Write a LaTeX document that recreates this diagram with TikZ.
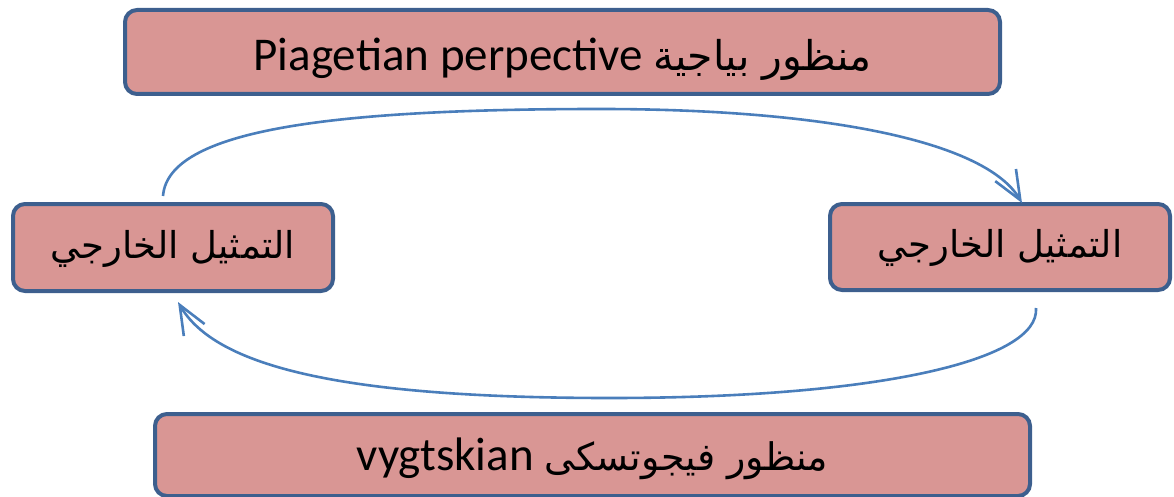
\documentclass[tikz,border=0pt]{standalone}
\usepackage{fontspec}
\setmainfont{Carlito}
\newfontfamily\arabicfont[Script=Arabic]{DejaVu Sans}
\TeXXeTstate=1
\usetikzlibrary{arrows.meta}
\definecolor{boxfill}{HTML}{D99694}
\definecolor{boxline}{HTML}{3D5F8E}
\definecolor{arcline}{HTML}{4A7EBB}
\begin{document}
\begin{tikzpicture}[x=1pt,y=-1pt,
  box/.style={draw=boxline,fill=boxfill,line width=4pt,rounded corners=12pt,inner sep=0pt,text=black,text depth=0pt},
  arc/.style={draw=arcline,line width=2.6pt,-{Straight Barb[length=29pt,width=24pt,line width=2.6pt]}}]
\useasboundingbox (0,0) rectangle (1174,497);
\begin{scope}
\clip (0,0) rectangle (1174,497);
\node[box,minimum width=875pt,minimum height=84pt,text height=38pt] (T) at (562.5,52)
  {\fontsize{47pt}{52pt}\selectfont\beginR{\arabicfont\fontsize{41pt}{46pt}\selectfont منظور بياجية} \beginL Piagetian perpective\endL\endR};
\node[box,minimum width=320pt,minimum height=87pt,text height=21pt] (L) at (173,247.5)
  {\arabicfont\fontsize{37pt}{42pt}\selectfont\beginR التمثيل الخارجي\endR};
\node[box,minimum width=340pt,minimum height=86pt,text height=20pt] (R) at (1000,247)
  {\arabicfont\fontsize{37pt}{42pt}\selectfont\beginR التمثيل الخارجي\endR};
\node[box,minimum width=875pt,minimum height=82pt,text height=30pt] (B) at (592.5,455)
  {\fontsize{47pt}{52pt}\selectfont\beginR{\arabicfont\fontsize{38pt}{43pt}\selectfont منظور فيجوتسكى} \beginL vygtskian\endL\endR};
\end{scope}
\coordinate (ptop) at (600,109);
\coordinate (pbot) at (610,398);
\draw[arc] ([xshift=-10pt,yshift=6pt]L.north) .. controls (168,130) and (330,109) .. (ptop)
  .. controls (820,109) and (985,140) .. ([xshift=22pt,yshift=-1pt]R.north);
\draw[arc] ([xshift=36pt,yshift=-16pt]R.south) .. controls (1040,360) and (880,398) .. (pbot)
  .. controls (340,398) and (215,366) .. ([xshift=5pt,yshift=-9pt]L.south);
\end{tikzpicture}
\end{document}
